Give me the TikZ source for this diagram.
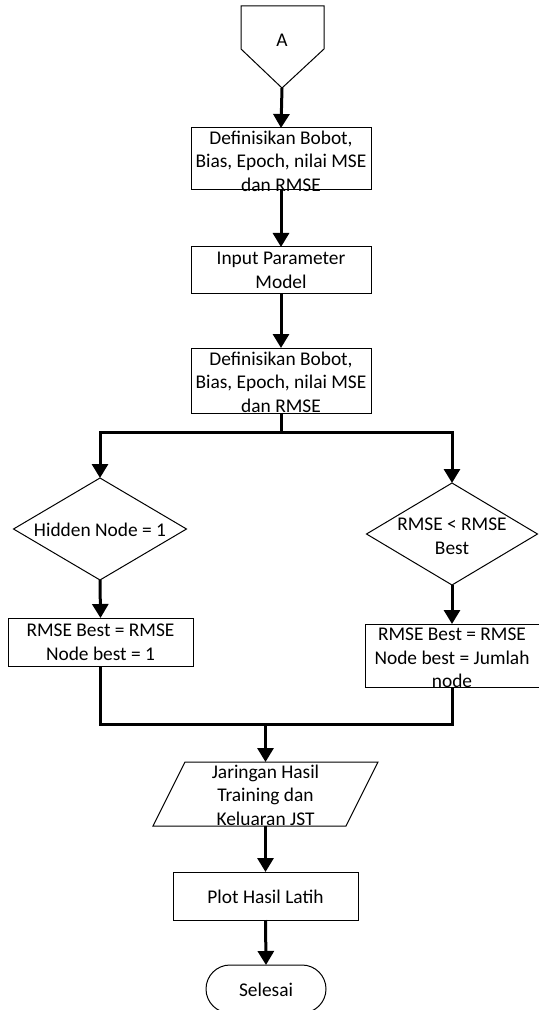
\documentclass[tikz,border=0pt]{standalone}
\usepackage{fontspec}
\setmainfont{Carlito}
\usetikzlibrary{arrows.meta,shapes.geometric,shapes.misc}
\begin{document}
\begin{tikzpicture}[x=0.5pt,y=-0.5pt,
  shp/.style={draw=black,line width=0.5pt,fill=white,inner sep=0pt,outer sep=0pt},
  boxs/.style={shp,rectangle},
  dia/.style={shp,diamond},
  term/.style={shp,rounded rectangle},
  txt/.style={inner sep=0pt,align=center,font=\fontsize{9.7}{11.8}\selectfont},
  flow/.style={line width=1.5pt},
  arr/.style={flow,-{Triangle[length=7pt,width=8pt]}}]
\useasboundingbox (0,0) rectangle (539,1010);
\clip (0,0) rectangle (539,1010);
% off-page connector
\draw[line width=0.5pt] (241,6) -- (324,6) -- (324,49) -- (282,88) -- (241,49) -- cycle;
\node[txt] (A) at (282,40) {A};
\coordinate (Abot) at (282,88);
% boxes
\node[boxs,minimum width=90pt,minimum height=31pt] (b1) at (281,159) {};
\node[txt] (b1t) at (281,161) {Definisikan Bobot,\\Bias, Epoch, nilai MSE\\dan RMSE};
\node[boxs,minimum width=90pt,minimum height=23.5pt] (b2) at (281,270.5) {};
\node[txt] (b2t) at (281,270.5) {Input Parameter\\Model};
\node[boxs,minimum width=90pt,minimum height=32.5pt] (b3) at (281,380.5) {};
\node[txt] (b3t) at (281,382) {Definisikan Bobot,\\Bias, Epoch, nilai MSE\\dan RMSE};
\coordinate (split) at (281,432);
% diamonds
\node[dia,minimum width=86.5pt,minimum height=51pt] (d1) at (100,529) {};
\node[txt] (d1t) at (100,530) {Hidden Node = 1};
\node[dia,minimum width=85.5pt,minimum height=51pt] (d2) at (452,534) {};
\node[txt] (d2t) at (452,536) {RMSE < RMSE\\Best};
% result boxes
\node[boxs,minimum width=92.5pt,minimum height=24pt] (r1) at (100.5,642) {};
\node[txt] (r1t) at (100.5,642) {RMSE Best = RMSE\\Node best = 1};
\node[boxs,minimum width=87pt,minimum height=31.5pt] (r2) at (452,655.5) {};
\node[txt] (r2t) at (452,658) {RMSE Best = RMSE\\Node best = Jumlah\\node};
\coordinate (join) at (265.5,724);
% parallelogram
\draw[line width=0.5pt] (185,762) -- (378,762) -- (346,826) -- (153,826) -- cycle;
\coordinate (pN) at (265.5,762);
\coordinate (pS) at (265.5,826);
\node[txt] (pt) at (265.5,795) {Jaringan Hasil\\Training dan\\Keluaran JST};
% plot
\node[boxs,minimum width=92.5pt,minimum height=24pt] (plot) at (265.5,896) {};
\node[txt] (plott) at (265.5,897) {Plot Hasil Latih};
% terminator
\node[term,minimum width=60pt,minimum height=24pt] (sel) at (266,989) {};
\node[txt] (selt) at (266,990) {Selesai};
% connectors
\draw[arr] (Abot) -- (b1.north);
\draw[arr] (b1.south) -- (b2.north);
\draw[arr] (b2.south) -- (b3.north);
\draw[flow] (b3.south) -- (split);
\draw[arr] (split) -| (d1.north);
\draw[arr] (split) -| (d2.north);
\draw[arr] (d1.south) -- (r1.north);
\draw[arr] (d2.south) -- (r2.north);
\draw[flow] (r1.south) |- (join);
\draw[flow] (r2.south) |- (join);
\draw[arr] (join) -- (pN);
\draw[arr] (pS) -- (plot.north);
\draw[arr] (plot.south) -- (sel.north);
\end{tikzpicture}
\end{document}
